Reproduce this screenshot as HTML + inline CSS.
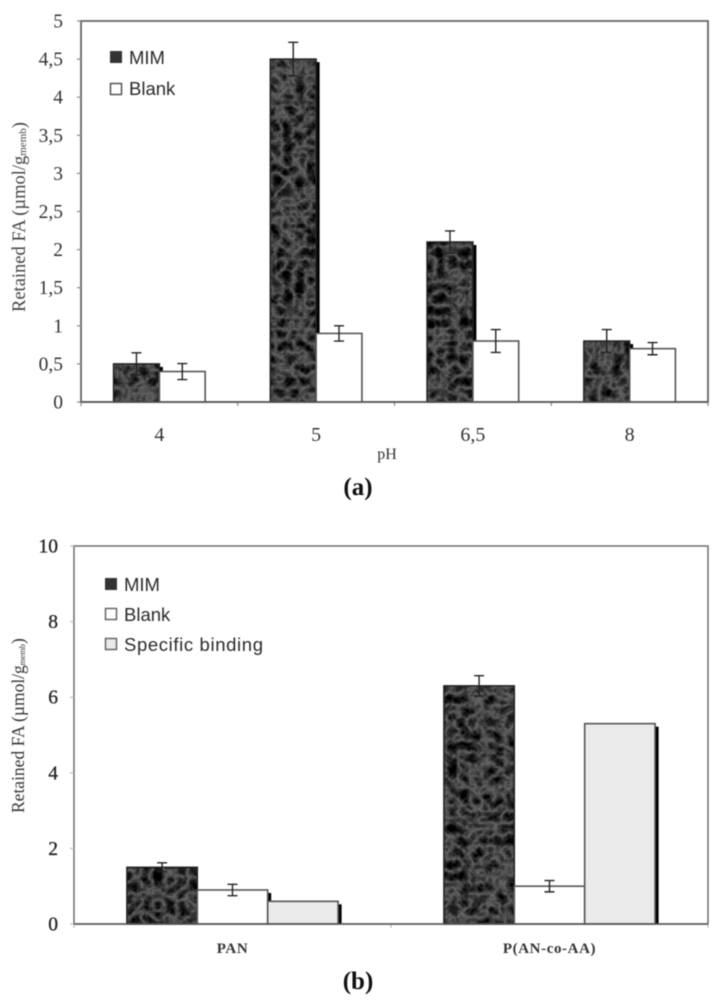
<!DOCTYPE html>
<html lang="en">
<head>
<meta charset="utf-8">
<title>Retained FA charts</title>
<style>
  html, body { margin: 0; padding: 0; background: #fff; }
  body { width: 720px; height: 1000px; overflow: hidden; }
  svg { display: block; filter: blur(0.55px); }
  .tick-a { font-family: "Liberation Serif", serif; font-size: 19.5px; fill: #333; }
  .tick-b { font-family: "Liberation Serif", serif; font-size: 19.5px; fill: #222; stroke: #222; stroke-width: .3px; }
  .cat-a { font-family: "Liberation Serif", serif; font-size: 20px; fill: #333; }
  .cat-b { font-family: "Liberation Serif", serif; font-size: 15px; font-weight: bold; letter-spacing: .6px; fill: #333; }
  .legend { font-family: "Liberation Sans", sans-serif; font-size: 18.5px; fill: #2a2a2a; }
  .ytitle { font-family: "Liberation Serif", serif; font-size: 18.5px; fill: #444; }
  .ytitle-b { font-family: "Liberation Serif", serif; font-size: 17.5px; fill: #333; }
  .panel { font-family: "Liberation Serif", serif; font-size: 25px; font-weight: bold; fill: #111; }
</style>
</head>
<body>
<svg id="fig" width="720" height="1000" viewBox="0 0 720 1000" xmlns="http://www.w3.org/2000/svg">
  <defs>
    <filter id="marble" x="0" y="0" width="1" height="1" color-interpolation-filters="sRGB">
      <feTurbulence type="turbulence" baseFrequency="0.085" numOctaves="4" seed="11" result="n"/>
      <feColorMatrix in="n" type="matrix" values="-0.65 0 0 0 0.44  -0.65 0 0 0 0.44  -0.65 0 0 0 0.44  0 0 0 0 1" result="g"/>
      <feComposite in="g" in2="SourceAlpha" operator="in"/>
    </filter>
    <pattern id="speckle" width="2" height="2" patternUnits="userSpaceOnUse">
      <rect width="2" height="2" fill="#f0f0f0"/>
      <rect width="1" height="1" fill="#dadada"/>
    </pattern>
  </defs>
  <rect width="720" height="1000" fill="#fff"/>

  <g id="chart-a"></g>
  <g id="chart-b"></g>

  <text class="ytitle" transform="translate(25,312) rotate(-90)">Retained FA (µmol/g<tspan font-size="11" dy="1">memb</tspan><tspan dy="-1">)</tspan></text>
  <text class="cat-a" style="font-size:16px" x="387" y="459" text-anchor="middle">pH</text>
  <text class="panel" x="358" y="495" text-anchor="middle">(a)</text>

  <g>
    <rect x="110" y="51" width="12" height="12" fill="#333"/>
    <text class="legend" x="129" y="64">MIM</text>
    <rect x="110.500" y="83.500" width="11" height="11" fill="#fff" stroke="#555" stroke-width="1.500"/>
    <text class="legend" x="129" y="95">Blank</text>
  </g>

  <text class="ytitle-b" transform="translate(24,813) rotate(-90)">Retained FA (µmol/g<tspan font-size="8.5" dy="1">memb</tspan><tspan dy="-1">)</tspan></text>
  <text class="panel" x="358" y="989" text-anchor="middle">(b)</text>

  <g>
    <rect x="105" y="578" width="12" height="12" fill="#333"/>
    <text class="legend" x="124" y="591">MIM</text>
    <rect x="105.500" y="608.500" width="11" height="11" fill="#fff" stroke="#666" stroke-width="1.500"/>
    <text class="legend" x="124" y="621">Blank</text>
    <rect x="105.500" y="638.500" width="11" height="11" fill="url(#speckle)" stroke="#666" stroke-width="1.500"/>
    <text class="legend" x="124" y="651" textLength="139">Specific binding</text>
  </g>
</svg>

<script>
// Chart (a) data
const phCategories = ["4", "5", "6,5", "8"];
const mimValuesA = [0.5, 4.5, 2.1, 0.8];
const blankValuesA = [0.4, 0.9, 0.8, 0.7];
const mimErrorsA = [0.145, 0.22, 0.145, 0.15];
const blankErrorsA = [0.105, 0.1, 0.15, 0.08];
const tickValuesA = [0, 0.5, 1, 1.5, 2, 2.5, 3, 3.5, 4, 4.5, 5];
const tickLabelsA = ["0", "0,5", "1", "1,5", "2", "2,5", "3", "3,5", "4", "4,5", "5"];

// Chart (b) data
const membraneCategories = ["PAN", "P(AN-co-AA)"];
const mimValuesB = [1.5, 6.3];
const blankValuesB = [0.9, 1.0];
const specificValuesB = [0.6, 5.3];
const mimErrorsB = [0.12, 0.27];
const blankErrorsB = [0.15, 0.15];
const tickValuesB = [0, 2, 4, 6, 8, 10];
const tickLabelsB = ["0", "2", "4", "6", "8", "10"];

const SVG_NS = 'http://www.w3.org/2000/svg';

function make(parent, tag, props) {
  const el = document.createElementNS(SVG_NS, tag);
  for (const k in props) el.setAttribute(k, props[k]);
  parent.appendChild(el);
  return el;
}

function drawChart(root, cfg) {
  const xBand = cfg.right - cfg.left;
  const catW = xBand / cfg.categories.length;
  const yScale = v => cfg.bottom - (v / cfg.yMax) * (cfg.bottom - cfg.top);
  const catCenter = i => cfg.left + catW * (i + 0.5);

  // plot frame
  const frame = make(root, 'rect', { x: cfg.left, y: cfg.top, width: xBand, height: cfg.bottom - cfg.top, fill: 'none', stroke: '#666', 'stroke-width': cfg.frameW });
  
  

  // y ticks and labels
  cfg.tickValues.forEach((v, i) => {
    const tick = make(root, 'line', { x1: cfg.left - 4, x2: cfg.left, y1: yScale(v), y2: yScale(v), stroke: cfg.tickColor, 'stroke-width': 1.2 });
    
    
    const label = make(root, 'text', { x: cfg.left - cfg.labelGap, y: yScale(v) + 6.5, 'text-anchor': 'end', class: cfg.tickClass });
    
    
    label.textContent = cfg.tickLabels[i];
  });

  // x ticks
  for (let i = 0; i <= cfg.categories.length; i++) {
    const x = cfg.left + catW * i;
    const tick = make(root, 'line', { x1: x, x2: x, y1: cfg.bottom, y2: cfg.bottom + 4, stroke: cfg.tickColor, 'stroke-width': 1.2 });
    
    
  }

  // bars, series by series, so later series overlap the earlier shadow
  const n = cfg.series.length;
  cfg.series.forEach((s, si) => {
    s.values.forEach((v, i) => {
      const x = catCenter(i) - (n * cfg.barW) / 2 + si * cfg.barW;
      const y = yScale(v);
      const h = cfg.bottom - y;
      if (s.shadow) {
        const sh = make(root, 'rect', { x: x + cfg.barW, y: y + 3, width: 3.5, height: Math.max(h - 3, 0), fill: '#000' });
        
        
      }
      if (s.kind === 'marble') {
        const back = make(root, 'rect', { x: x, y: y, width: cfg.barW, height: h, fill: '#222' });
        
        
        const tex = make(root, 'rect', { x: x, y: y, width: cfg.barW, height: h, fill: '#333', filter: 'url(#marble)' });
        
        
        const edge = make(root, 'rect', { x: x, y: y, width: cfg.barW, height: h, fill: 'none', stroke: '#222', 'stroke-width': 1.5 });
        
        
      } else {
        const bar = make(root, 'rect', { x: x, y: y, width: cfg.barW, height: h, fill: s.kind === 'speckle' ? 'url(#speckle)' : '#fff', stroke: '#555', 'stroke-width': 1.6 });
        
        
      }
    });
  });

  // error bars above everything
  cfg.series.forEach((s, si) => {
    if (!s.errors) return;
    s.values.forEach((v, i) => {
      const cx = catCenter(i) - (n * cfg.barW) / 2 + (si + 0.5) * cfg.barW;
      const hi = yScale(v + s.errors[i]);
      const lo = yScale(v - s.errors[i]);
      const g = make(root, 'path', {
        d: 'M' + (cx - 5) + ' ' + hi + 'H' + (cx + 5) + 'M' + cx + ' ' + hi + 'V' + lo + 'M' + (cx - 5) + ' ' + lo + 'H' + (cx + 5),
        fill: 'none', stroke: '#222', 'stroke-width': 1.4
      });
      
      
    });
  });

  // redraw the baseline above the bars
  const base = make(root, 'line', { x1: cfg.left, x2: cfg.right, y1: cfg.bottom, y2: cfg.bottom, stroke: '#555', 'stroke-width': 1.6 });
  
  

  // category labels
  cfg.categories.forEach((c, i) => {
    const t = make(root, 'text', { x: catCenter(i), y: cfg.catY, 'text-anchor': 'middle', class: cfg.catClass });
    
    
    t.textContent = c;
  });
}

drawChart(document.getElementById('chart-a'), {
  left: 81, right: 708, top: 21, bottom: 402, yMax: 5,
  barW: 45.8, frameW: 1.8, tickColor: '#888', labelGap: 18, catY: 441, catClass: 'cat-a', tickClass: 'tick-a',
  categories: phCategories, tickValues: tickValuesA, tickLabels: tickLabelsA,
  series: [
    { name: 'mim', kind: 'marble', values: mimValuesA, errors: mimErrorsA, shadow: true },
    { name: 'blank', kind: 'plain', values: blankValuesA, errors: blankErrorsA, shadow: false }
  ]
});

drawChart(document.getElementById('chart-b'), {
  left: 74, right: 708, top: 546, bottom: 924, yMax: 10,
  barW: 70.4, frameW: 1.4, tickColor: '#bbb', labelGap: 16, catY: 953, catClass: 'cat-b', tickClass: 'tick-b',
  categories: membraneCategories, tickValues: tickValuesB, tickLabels: tickLabelsB,
  series: [
    { name: 'mim', kind: 'marble', values: mimValuesB, errors: mimErrorsB, shadow: false },
    { name: 'blank', kind: 'plain', values: blankValuesB, errors: blankErrorsB, shadow: true },
    { name: 'specific-binding', kind: 'speckle', values: specificValuesB, errors: null, shadow: true }
  ]
});
</script>
</body>
</html>
